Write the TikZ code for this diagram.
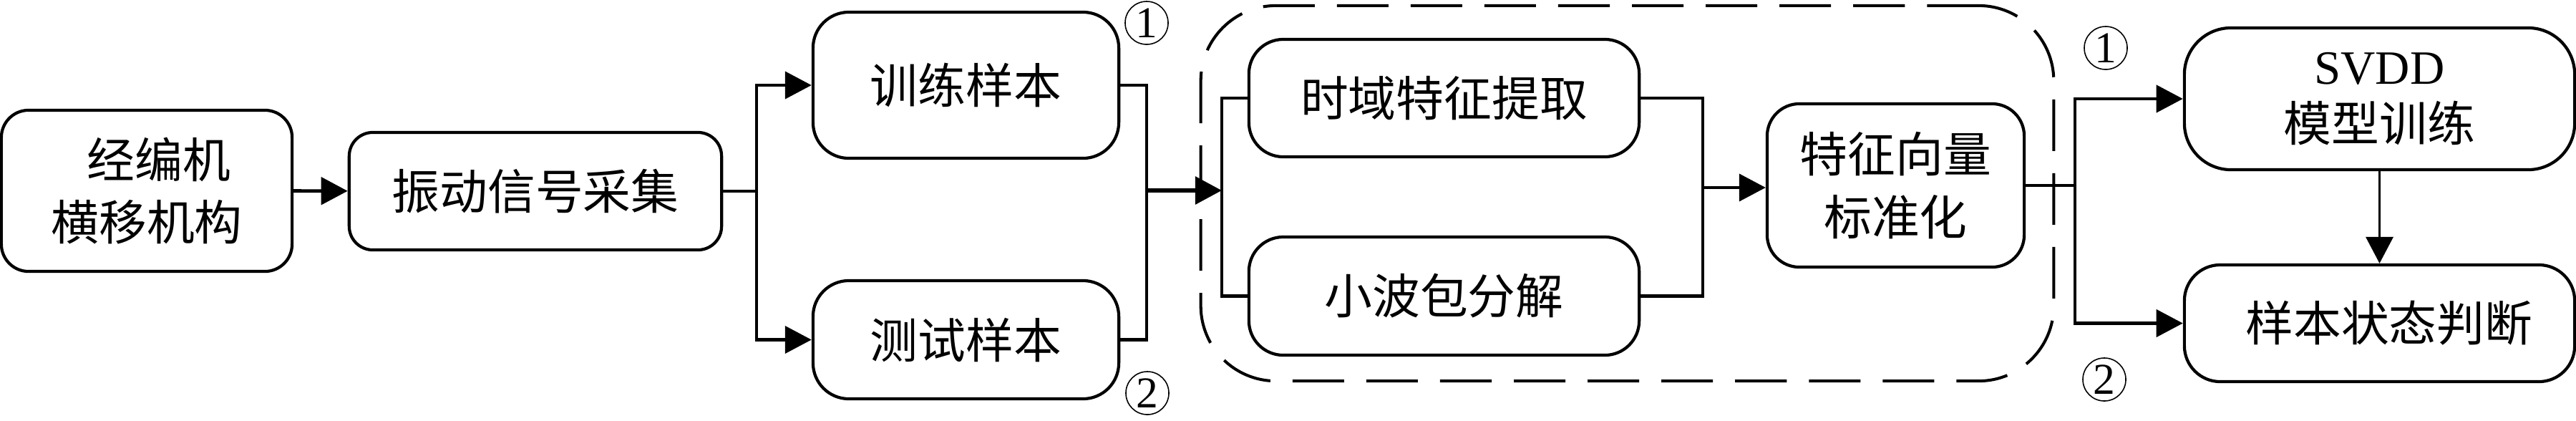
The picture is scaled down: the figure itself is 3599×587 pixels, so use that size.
\documentclass[tikz,border=0pt]{standalone}
\usepackage{fontspec}
\setmainfont{Liberation Serif}
\newfontfamily\cjk{Noto Sans CJK SC}
\usetikzlibrary{arrows.meta}
\begin{document}
\begin{tikzpicture}[x=0.01cm,y=-0.01cm,
  box/.style={draw, line width=1.2pt, inner sep=0pt, align=center,
    font=\cjk\fontsize{19pt}{25pt}\selectfont},
  conn/.style={line width=1.2pt},
  arr/.style={conn, -{Triangle[length=3.7mm,width=3.8mm]}},
  numc/.style={draw, circle, line width=0.45pt, minimum size=0.6cm, inner sep=0pt,
    font=\rmfamily\fontsize{17.5pt}{17.5pt}\selectfont},
  grpframe/.style={draw, dash pattern=on 0.72cm off 0.31cm, line width=1.15pt,
    rounded corners=1.05cm, inner sep=0pt}]
\useasboundingbox (0,0) rectangle (3599,587);

% boxes
\node[box, minimum width=4.06cm, minimum height=2.25cm, rounded corners=0.38cm] (A) at (205,266.5) {\hspace*{0.5em}经编机\\横移机构};
\node[box, minimum width=5.2cm, minimum height=1.64cm, rounded corners=0.33cm] (B) at (748,267) {振动信号采集};
\node[box, minimum width=4.27cm, minimum height=2.04cm, rounded corners=0.5cm] (C) at (1349.5,119) {训练样本};
\node[box, minimum width=4.27cm, minimum height=1.65cm, rounded corners=0.5cm] (D) at (1349.5,474.5) {测试样本};
\node[grpframe, minimum width=11.91cm, minimum height=5.24cm] (grp) at (2273.5,270) {};
\node[box, minimum width=5.45cm, minimum height=1.64cm, rounded corners=0.48cm] (E) at (2017.5,137) {时域特征提取};
\node[box, minimum width=5.45cm, minimum height=1.65cm, rounded corners=0.48cm] (F) at (2017.5,413.5) {小波包分解};
\node[box, minimum width=3.59cm, minimum height=2.28cm, rounded corners=0.45cm] (G) at (2648.5,259) {特征向量\\标准化};
\node[box, minimum width=5.45cm, minimum height=1.98cm, rounded corners=0.65cm] (H) at (3324.5,138) {{\rmfamily SVDD}\\[-2pt]模型训练};
\node[box, minimum width=5.45cm, minimum height=1.63cm, rounded corners=0.5cm] (I) at (3324.5,451.5) {\hspace*{0.4em}样本状态判断};

% circled numbers
\node[numc] (n1a) at (1602,32) {1};
\node[numc] (n2a) at (1603,549) {2};
\node[numc] (n1b) at (2942,67) {1};
\node[numc] (n2b) at (2940,530) {2};

% junction points
\coordinate (jB) at (1057,267);
\coordinate (jL) at (1602,266);
\coordinate (jIn) at (1707,266);
\coordinate (jR) at (2379,262);
\coordinate (jR2) at (2899,259);

% connectors
\draw[arr, line width=1.4pt] (A) -- (B);
\draw[conn] (B.east) -- (jB);
\draw[arr] (jB) |- (C.west);
\draw[arr] (jB) |- (D.west);
\draw[conn] (C.east) -| (jL) |- (D.east);
\draw[arr, line width=1.7pt] (jL) -- (jIn);
\draw[conn] (E.west) -| (jIn) |- (F.west);
\draw[conn] (E.east) -| (jR) |- (F.east);
\draw[arr] (jR) -- (jR -| G.west);
\draw[conn] (G.east) -- (jR2);
\draw[arr] (jR2) |- (H.west);
\draw[arr] (jR2) |- (I.west);
\draw[arr, line width=1pt] (H) -- (I);
\end{tikzpicture}
\end{document}
